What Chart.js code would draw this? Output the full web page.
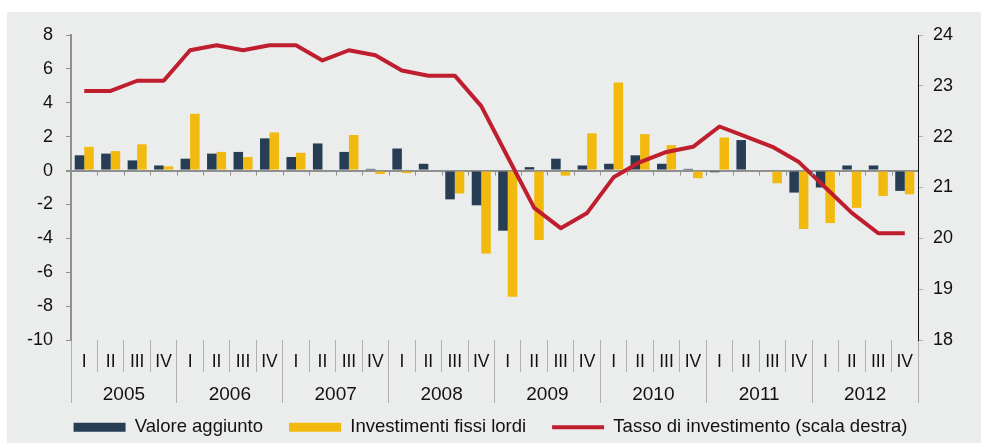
<!DOCTYPE html>
<html>
<head>
<meta charset="utf-8">
<script src="https://cdn.jsdelivr.net/npm/chart.js@4.4.0/dist/chart.umd.min.js"></script>
<style>
  body { margin: 0; background: #fff; }
  .panel { position: absolute; left: 7px; top: 12px; width: 974px; height: 431px; background: #ebedec; }
  .wrap { position: absolute; left: 0; top: 0; width: 981px; height: 443px; }
</style>
</head>
<body>
<div class="panel"></div>
<div class="wrap"><canvas id="chart" width="981" height="443"></canvas></div>
<script>
const years = ["2005", "2006", "2007", "2008", "2009", "2010", "2011", "2012"];
const quarters = ["I", "II", "III", "IV"];
const labels = years.flatMap(() => quarters);

// variazioni percentuali (scala sinistra)
const valoreAggiunto = [
  0.9, 1.0, 0.6, 0.3,
  0.7, 1.0, 1.1, 1.9,
  0.8, 1.6, 1.1, 0.1,
  1.3, 0.4, -1.7, -2.05,
  -3.55, 0.2, 0.7, 0.3,
  0.4, 0.9, 0.4, 0.1,
  -0.1, 1.8, 0, -1.3,
  -1.0, 0.3, 0.3, -1.2
];
const investimenti = [
  1.4, 1.15, 1.55, 0.25,
  3.35, 1.1, 0.8, 2.25,
  1.05, 0, 2.1, -0.2,
  -0.15, 0, -1.35, -4.9,
  -7.45, -4.1, -0.3, 2.2,
  5.2, 2.15, 1.5, -0.45,
  1.95, 0, -0.75, -3.45,
  -3.1, -2.2, -1.5, -1.4
];
// tasso di investimento (scala destra)
const tasso = [
  22.9, 22.9, 23.1, 23.1,
  23.7, 23.8, 23.7, 23.8,
  23.8, 23.5, 23.7, 23.6,
  23.3, 23.2, 23.2, 22.6,
  21.6, 20.6, 20.2, 20.5,
  21.2, 21.5, 21.7, 21.8,
  22.2, 22.0, 21.8, 21.5,
  21.0, 20.5, 20.1, 20.1
];

const navy = "#263d53";
const gold = "#f2ba0f";
const red = "#be1e2d";
const grey = "#8f8f8f";
const font = "'Liberation Sans', Arial, sans-serif";

// small ticks below the zero line at each quarter boundary
const zeroTicks = {
  id: "zeroTicks",
  afterDatasetsDraw(chart) {
    const x = chart.scales.x;
    const y0 = chart.scales.y.getPixelForValue(0);
    const step = x.getPixelForValue(1) - x.getPixelForValue(0);
    const ctx = chart.ctx;
    ctx.save();
    ctx.strokeStyle = grey;
    ctx.lineWidth = 1;
    for (let i = 1; i < labels.length; i++) {
      const px = Math.round(x.getPixelForValue(i) - step / 2) + 0.5;
      ctx.beginPath();
      ctx.moveTo(px, y0);
      ctx.lineTo(px, y0 + 5);
      ctx.stroke();
    }
    ctx.restore();
  }
};

// pull the legend up a little, closer to the year labels
const legendShift = {
  id: "legendShift",
  beforeDraw(chart) {
    const lg = chart.legend;
    if (lg && !lg._shifted) {
      lg.top -= 11;
      lg._shifted = true;
    }
  }
};

new Chart(document.getElementById("chart"), {
  type: "bar",
  data: {
    labels: labels,
    datasets: [
      {
        type: "line",
        label: "Tasso di investimento (scala destra)",
        data: tasso,
        yAxisID: "y1",
        borderColor: red,
        backgroundColor: red,
        borderWidth: 4,
        pointRadius: 0,
        pointStyle: "line",
        borderJoinStyle: "round",
        tension: 0,
        order: 0
      },
      {
        label: "Valore aggiunto",
        data: valoreAggiunto,
        backgroundColor: navy,
        borderWidth: 0,
        pointStyle: "rect",
        categoryPercentage: 0.72,
        barPercentage: 1,
        order: 1
      },
      {
        label: "Investimenti fissi lordi",
        data: investimenti,
        backgroundColor: gold,
        borderWidth: 0,
        pointStyle: "rect",
        categoryPercentage: 0.72,
        barPercentage: 1,
        order: 1
      }
    ]
  },
  options: {
    responsive: false,
    animation: false,
    layout: { padding: { top: 35, left: 0, right: 0, bottom: 0 } },
    plugins: {
      tooltip: { enabled: false },
      legend: {
        position: "bottom",
        maxHeight: 40,
        labels: {
          usePointStyle: true,
          pointStyleWidth: 52,
          boxHeight: 9,
          padding: 26,
          color: "#111",
          font: { family: font, size: 18.5 },
          sort: (a, b) => {
            const rank = [2, 0, 1];
            return rank[a.datasetIndex] - rank[b.datasetIndex];
          }
        }
      }
    },
    scales: {
      x: {
        type: "category",
        position: "bottom",
        weight: 0,
        offset: true,
        border: { display: false },
        grid: { offset: true, drawOnChartArea: false, tickLength: 32, color: "#b0b0b0", lineWidth: 1 },
        ticks: { autoSkip: false, maxRotation: 0, padding: -20, color: "#111", font: { family: font, size: 17.5 } },
        afterFit: (s) => { s.height = 32; }
      },
      x2: {
        type: "category",
        position: "bottom",
        weight: 1,
        labels: years,
        offset: true,
        border: { display: false },
        grid: { offset: true, drawOnChartArea: false, tickLength: 31, color: "#b0b0b0", lineWidth: 1 },
        ticks: { autoSkip: false, maxRotation: 0, padding: -20, color: "#111", font: { family: font, size: 19 } },
        afterFit: (s) => { s.height = 31; }
      },
      y: {
        position: "left",
        min: -10,
        max: 8,
        border: { display: true, color: grey, width: 2 },
        grid: {
          color: (c) => (c.tick && c.tick.value === 0 ? grey : "transparent"),
          lineWidth: (c) => (c.tick && c.tick.value === 0 ? 2 : 1),
          tickColor: grey,
          tickLength: 5
        },
        ticks: { stepSize: 2, padding: 13, color: "#111", font: { family: font, size: 18 } },
        afterFit: (s) => { s.width = 71; }
      },
      y1: {
        position: "right",
        min: 18,
        max: 24,
        border: { display: true, color: "#111", width: 1 },
        grid: { drawOnChartArea: false, tickColor: "#b0b0b0", tickLength: 5 },
        ticks: { stepSize: 1, padding: 10, color: "#111", font: { family: font, size: 18 } },
        afterFit: (s) => { s.width = 63; }
      }
    }
  },
  plugins: [zeroTicks, legendShift]
});
</script>
</body>
</html>
